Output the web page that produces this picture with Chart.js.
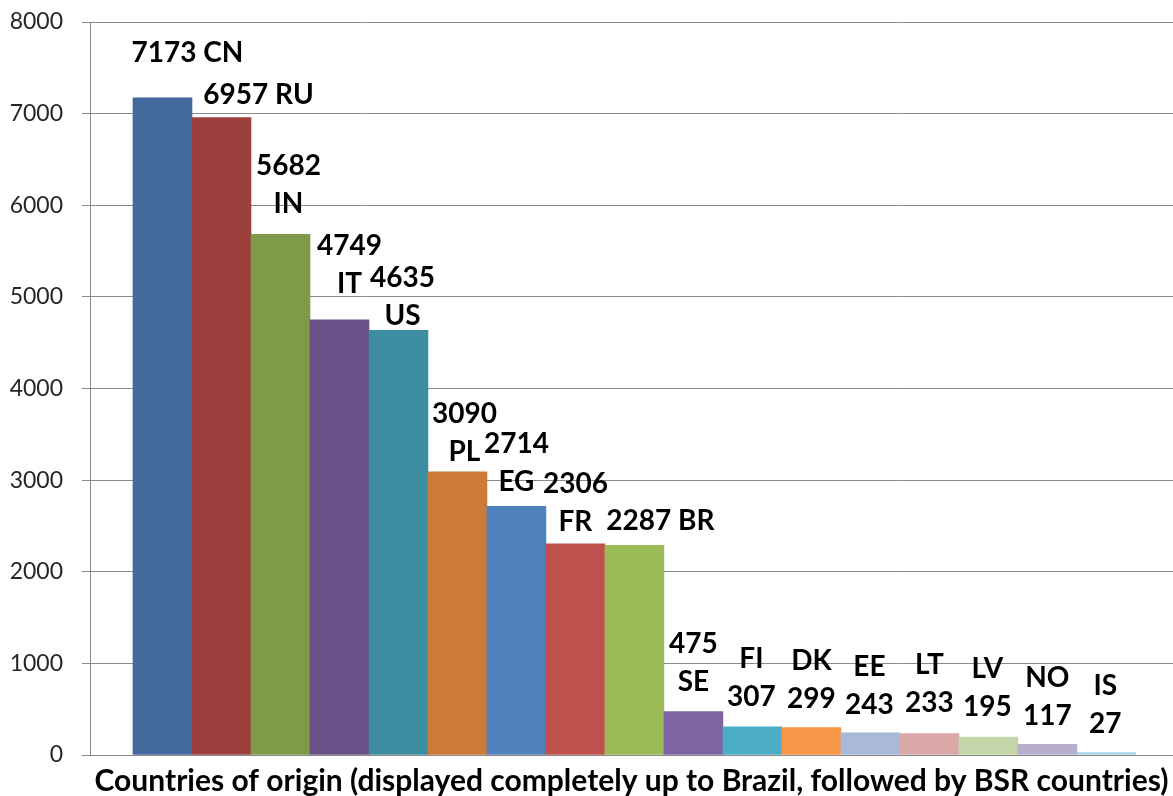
<!DOCTYPE html>
<html>
<head>
<meta charset="utf-8">
<script src="https://cdn.jsdelivr.net/npm/chart.js@4.4.1/dist/chart.umd.min.js"></script>
<style>
  html, body { margin: 0; padding: 0; background: #ffffff; }
  #wrap { width: 1173px; height: 796px; position: relative; }
</style>
</head>
<body>
<div id="wrap"><canvas id="c" width="1173" height="796"></canvas></div>
<script>
// ---- Data ----
const countryCodes = ['CN','RU','IN','IT','US','PL','EG','FR','BR','SE','FI','DK','EE','LT','LV','NO','IS'];
const originCounts = [7173, 6957, 5682, 4749, 4635, 3090, 2714, 2306, 2287, 475, 307, 299, 243, 233, 195, 117, 27];
const yTickValues = [0, 1000, 2000, 3000, 4000, 5000, 6000, 7000, 8000];
const xAxisTitle = 'Countries of origin (displayed completely up to Brazil, followed by BSR countries)';

// ---- Styling / layout ----
const barColors = ['#41699B','#9D403D','#7F9A49','#6B5087','#3C8CA2','#CC7A37',
                   '#4F81BD','#C0504D','#9BBB59','#8064A2','#4BACC6','#F79646',
                   '#A8BAD7','#D9A8A7','#C4D6A9','#B9AFCC','#A7D4E2'];
// label line arrangement: 'inline' = "value code", 'vc' = value over code, 'cv' = code over value
const labelArrangement = ['inline','inline','vc','vc','vc','vc','vc','vc','inline',
                          'vc','cv','cv','cv','cv','cv','cv','cv'];
// label nudges: [dx from bar centre, gap from bar top to last line centre]
const labelNudge = [[25,46],[37,24],[8,31],[10,37],[4,15],[7,21],[0,25],[0,23],[26,25],
                    [0,30],[-1,31],[0,30],[-1,29],[0,32],[-1,31],[0,29],[-1,30]];
const LABEL_FONT = 'bold 28px Lato';
const LINE_GAP = 38;
const CAP_HALF = 10;

const labelPlugin = {
  id: 'barLabels',
  afterDatasetsDraw(chart) {
    const ctx = chart.ctx;
    const meta = chart.getDatasetMeta(0);
    ctx.save();
    ctx.font = LABEL_FONT;
    ctx.fillStyle = '#000';
    ctx.textAlign = 'center';
    ctx.textBaseline = 'alphabetic';
    meta.data.forEach((bar, i) => {
      const val = String(originCounts[i]);
      const code = countryCodes[i];
      let lines;
      if (labelArrangement[i] === 'inline') lines = [val + ' ' + code];
      else if (labelArrangement[i] === 'vc') lines = [val, code];
      else lines = [code, val];
      const [dx, gap] = labelNudge[i];
      const cx = bar.x + dx;
      const lastY = bar.y - gap;
      const n = lines.length;
      lines.forEach((t, k) => {
        const cy = lastY - (n - 1 - k) * LINE_GAP;
        ctx.fillText(t, cx, cy + CAP_HALF);
      });
    });
    ctx.restore();
  }
};

const ctx = document.getElementById('c').getContext('2d');
new Chart(ctx, {
  type: 'bar',
  data: {
    datasets: [{
      data: originCounts.map((v, i) => ({ x: i, y: v })),
      backgroundColor: barColors,
      borderWidth: 0,
      barPercentage: 1.0,
      categoryPercentage: 1.0
    }]
  },
  options: {
    responsive: false,
    animation: false,
    events: [],
    layout: { padding: { top: 22, right: 0, left: 0, bottom: 0 } },
    plugins: { legend: { display: false }, tooltip: { enabled: false } },
    scales: {
      x: {
        type: 'linear',
        min: -1.229,
        max: 17.13,
        offset: false,
        grid: { display: false },
        border: { display: false },
        ticks: { display: false, padding: 0 },
        title: {
          display: true,
          text: xAxisTitle,
          color: '#000',
          font: { family: 'Lato', size: 30, weight: 'bold', lineHeight: 1.0 },
          padding: { top: 3, bottom: 0 }
        }
      },
      y: {
        min: 0,
        max: 8000,
        afterBuildTicks: (s) => { s.ticks = yTickValues.map(v => ({ value: v })); },
        afterFit: (s) => { s.width = 90; s.paddingTop = 0; s.paddingBottom = 0; },
        grid: { color: '#8a8a8a', lineWidth: 1, tickLength: 8, drawTicks: true },
        border: { display: true, color: '#8a8a8a', width: 1 },
        ticks: {
          color: '#262626',
          padding: 19,
          font: { family: 'Lato', size: 23 },
          callback: (v) => String(v)
        }
      }
    }
  },
  plugins: [labelPlugin]
});
</script>
</body>
</html>
